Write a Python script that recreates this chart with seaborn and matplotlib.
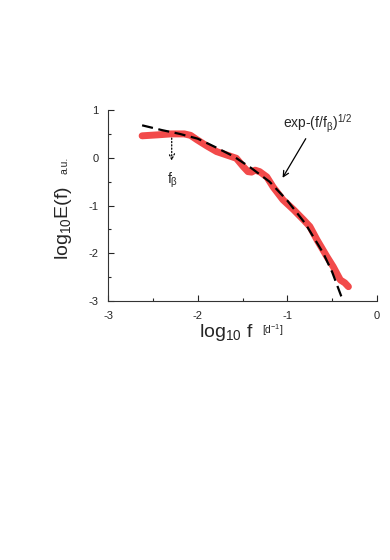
import numpy as np
import pandas as pd
import matplotlib
matplotlib.use('Agg')
import matplotlib.pyplot as plt
import seaborn as sns

sns.set_style('white')
plt.rcParams['font.family'] = ['Liberation Sans', 'DejaVu Sans']
plt.rcParams['mathtext.fontset'] = 'custom'
plt.rcParams['mathtext.rm'] = 'Liberation Sans'
plt.rcParams['mathtext.it'] = 'Liberation Sans'
plt.rcParams['axes.unicode_minus'] = False

# measured spectrum (red)
spec_x = [-2.62, -2.45, -2.3, -2.15, -2.08, -2.01, -1.9, -1.79, -1.68, -1.57,
          -1.49, -1.44, -1.40, -1.36, -1.31, -1.23, -1.16, -1.05, -0.93, -0.82,
          -0.75, -0.67, -0.56, -0.49, -0.41, -0.36, -0.32]
spec_y = [0.46, 0.48, 0.50, 0.50, 0.47, 0.38, 0.25, 0.13, 0.06, -0.01,
          -0.19, -0.29, -0.30, -0.26, -0.29, -0.40, -0.61, -0.88, -1.09, -1.30,
          -1.44, -1.72, -2.07, -2.28, -2.56, -2.62, -2.70]

# stretched exponential fit (dashed)
fit_x = [-2.62, -2.4, -2.2, -2.0, -1.8, -1.6, -1.4, -1.2, -1.0, -0.8,
         -0.6, -0.5, -0.4, -0.37]
fit_y = [0.68, 0.58, 0.50, 0.40, 0.22, 0.03, -0.22, -0.50, -0.90, -1.38,
         -2.0, -2.4, -2.9, -3.02]

fig = plt.figure(figsize=(3.9, 5.6), dpi=100)
ax = fig.add_axes([0.277, 0.4625, 0.69, 0.341])

sns.lineplot(x=spec_x, y=spec_y, ax=ax, color='#f24a4a', lw=5,
             solid_capstyle='round', sort=False)
sns.lineplot(x=fit_x, y=fit_y, ax=ax, color='black', lw=1.6,
             sort=False, dashes=False, linestyle=(0, (5, 2.5)))

ax.set_xlim(-3, 0)
ax.set_ylim(-3, 1)
ax.set_xticks([-3, -2, -1, 0])
ax.set_yticks([-3, -2, -1, 0, 1])
ax.set_xticks([-2.5, -1.5, -0.5], minor=True)
ax.set_yticks([-2.5, -1.5, -0.5, 0.5], minor=True)
ax.tick_params(which='major', direction='in', length=4, width=0.8,
               labelsize=8, left=True, bottom=True, pad=7)
ax.tick_params(which='minor', direction='in', length=2.5, width=0.8,
               left=True, bottom=True)
for s in ['top', 'right']:
    ax.spines[s].set_visible(False)
for s in ['left', 'bottom']:
    ax.spines[s].set_color('#333333')
    ax.spines[s].set_linewidth(0.8)

# annotations
ax.annotate('', xy=(-2.29, -0.12), xytext=(-2.29, 0.47),
            arrowprops=dict(arrowstyle='->', ls=':', lw=0.9, color='black'))
ax.text(-2.28, -0.47, r'f$_\beta$', ha='center', va='center', fontsize=10)
ax.text(-0.67, 0.7, r'exp-(f/f$_\beta$)$^{1/2}$', ha='center', va='center', fontsize=10)
ax.annotate('', xy=(-1.07, -0.47), xytext=(-0.78, 0.45),
            arrowprops=dict(arrowstyle='->', lw=0.9, color='black'))

# axis labels
fig.text(0.162, 0.601, r'log$_{10}$E(f)', rotation=90, ha='center', va='center',
         fontsize=14)
fig.text(0.166, 0.704, 'a.u.', rotation=90, ha='center', va='center', fontsize=7.5)
fig.text(0.581, 0.407, r'log$_{10}$ f', ha='center', va='center', fontsize=14)
fig.text(0.70, 0.41, r'[d$^{-1}$]', ha='center', va='center', fontsize=7.5)

fig.savefig('out.png', dpi=100, facecolor='white')
